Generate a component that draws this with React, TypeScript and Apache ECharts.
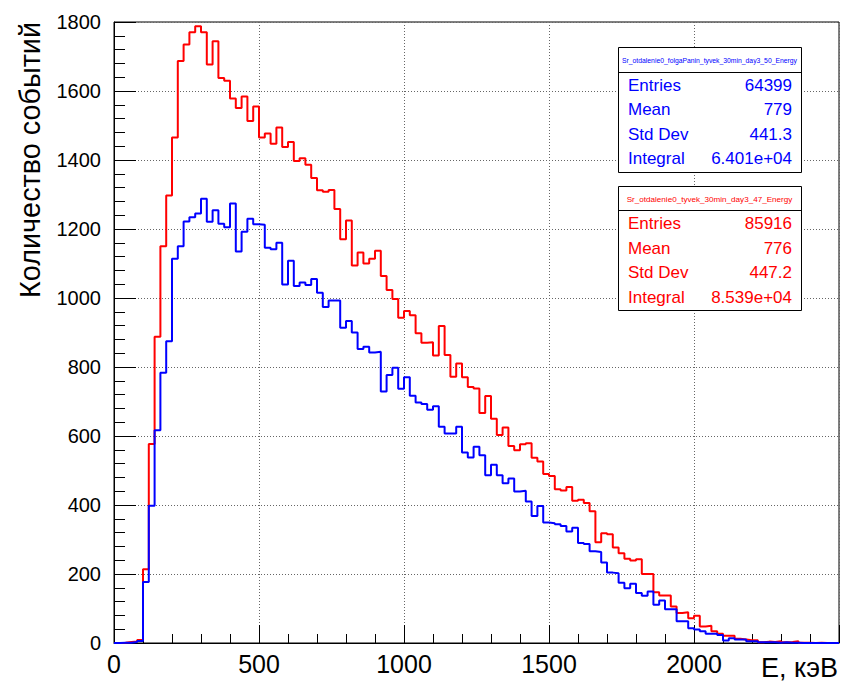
import React, { useEffect, useRef } from "react";
import * as echarts from "echarts";

const BIN_WIDTH = 20;
const X_MIN = 0;
const X_MAX = 2500;
const Y_MIN = 0;
const Y_MAX = 1800;

// counts per 20-unit bin, E from 0 to 2500
const redCounts = [
  0, 1, 3, 4, 9, 214, 577, 888, 1150, 1297,
  1465, 1687, 1735, 1770, 1788, 1770, 1677, 1744, 1638, 1630,
  1578, 1551, 1584, 1513, 1555, 1465, 1477, 1447, 1494, 1438,
  1452, 1397, 1405, 1386, 1348, 1312, 1308, 1313, 1258, 1170,
  1225, 1094, 1132, 1100, 1114, 1137, 1064, 1023, 997, 943,
  962, 950, 898, 870, 872, 833, 919, 835, 772, 810,
  770, 742, 738, 667, 716, 650, 603, 625, 571, 559,
  576, 579, 537, 526, 490, 484, 446, 442, 452, 412,
  415, 406, 382, 292, 318, 315, 277, 260, 244, 239,
  243, 200, 200, 147, 138, 138, 106, 87, 89, 72,
  79, 48, 50, 34, 27, 21, 21, 12, 10, 8,
  8, 2, 4, 3, 5, 2, 3, 5, 1, 1,
  0, 1, 0, 0, 0,
];

const blueCounts = [
  0, 1, 1, 3, 6, 177, 398, 617, 783, 875,
  1114, 1150, 1222, 1234, 1245, 1288, 1221, 1254, 1215, 1205,
  1274, 1135, 1192, 1230, 1214, 1212, 1146, 1141, 1160, 1039,
  1108, 1035, 1045, 1038, 1055, 1015, 974, 993, 993, 914,
  933, 900, 852, 859, 842, 844, 729, 777, 798, 737,
  770, 717, 697, 693, 676, 686, 627, 607, 607, 627,
  552, 538, 569, 544, 486, 517, 486, 463, 477, 439,
  441, 410, 368, 397, 349, 347, 344, 339, 323, 334,
  290, 287, 266, 264, 233, 204, 202, 175, 159, 172,
  145, 137, 149, 111, 123, 98, 98, 63, 63, 43,
  39, 34, 27, 27, 23, 7, 14, 10, 10, 5,
  5, 2, 2, 2, 1, 2, 1, 1, 0, 0,
  0, 0, 0, 0, 0,
];

const X_TITLE = "E, кэВ";
const Y_TITLE = "Количество событий";
const STAT_LABELS = ["Entries", "Mean", "Std Dev", "Integral"];
const BLUE_NAME = "Sr_otdalenie0_folgaPanin_tyvek_30min_day3_50_Energy";
const BLUE_STATS = ["64399", "779", "441.3", "6.401e+04"];
const RED_NAME = "Sr_otdalenie0_tyvek_30min_day3_47_Energy";
const RED_STATS = ["85916", "776", "447.2", "8.539e+04"];

const FONT = "'Liberation Sans', Arial, Helvetica, sans-serif";
const BOX_Z = 100;

function toSteps(counts: number[]) {
  const pts: number[][] = counts.map((c, i) => [X_MIN + i * BIN_WIDTH, c]);
  pts.push([X_MIN + counts.length * BIN_WIDTH, counts[counts.length - 1]]);
  return pts;
}

function statsBox(
  x: number,
  y: number,
  w: number,
  h: number,
  headerH: number,
  titleSize: number,
  name: string,
  values: string[],
  color: string,
  rowYs: number[]
) {
  const els: any[] = [
    {
      type: "rect",
      z: BOX_Z,
      shape: { x: x + 0.5, y: y + 0.5, width: w, height: h },
      style: { fill: "#fff", stroke: "#000", lineWidth: 1 },
    },
    {
      type: "line",
      z: BOX_Z + 1,
      shape: { x1: x, y1: y + headerH + 0.5, x2: x + w, y2: y + headerH + 0.5 },
      style: { stroke: "#000", lineWidth: 1 },
    },
    {
      type: "text",
      z: BOX_Z + 1,
      x: x + w / 2,
      y: y + headerH / 2 + 1,
      style: {
        text: name,
        fill: color,
        fontSize: titleSize,
        fontFamily: FONT,
        align: "center",
        verticalAlign: "middle",
      },
    },
  ];
  STAT_LABELS.forEach((lab, i) => {
    els.push({
      type: "text",
      z: BOX_Z + 1,
      x: x + 10,
      y: rowYs[i],
      style: {
        text: lab,
        fill: color,
        fontSize: 17,
        fontFamily: FONT,
        align: "left",
        verticalAlign: "middle",
      },
    });
    els.push({
      type: "text",
      z: BOX_Z + 1,
      x: x + w - 9,
      y: rowYs[i],
      style: {
        text: values[i],
        fill: color,
        fontSize: 17,
        fontFamily: FONT,
        align: "right",
        verticalAlign: "middle",
      },
    });
  });
  return els;
}

export default function App() {
  const ref = useRef<HTMLDivElement>(null);

  useEffect(() => {
    document.body.style.margin = "0";
    const chart = echarts.init(ref.current as HTMLDivElement, undefined, {
      renderer: "svg",
    });
    const gridLine = { type: [1, 2] as any, color: "#666", width: 1 };
    chart.setOption({
      animation: false,
      backgroundColor: "#fff",
      textStyle: { fontFamily: FONT },
      grid: {
        left: 114,
        right: 1,
        top: 22,
        bottom: 41,
        show: true,
        borderColor: "#000",
        borderWidth: 1,
        backgroundColor: "transparent",
      },
      xAxis: {
        type: "value",
        min: X_MIN,
        max: X_MAX,
        interval: 500,
        axisLine: { show: true, onZero: false, lineStyle: { color: "#000", width: 1 } },
        axisTick: { show: true, inside: true, length: 18, lineStyle: { color: "#000" } },
        minorTick: { show: true, splitNumber: 5, length: 9, lineStyle: { color: "#000" } },
        axisLabel: {
          fontSize: 25,
          color: "#000",
          fontFamily: FONT,
          margin: 8,
          formatter: (v: number) => (v === X_MAX ? "" : String(v)),
        },
        splitLine: { show: true, lineStyle: gridLine },
      },
      yAxis: {
        type: "value",
        min: Y_MIN,
        max: Y_MAX,
        interval: 200,
        axisLine: { show: true, onZero: false, lineStyle: { color: "#000", width: 1 } },
        axisTick: { show: true, inside: true, length: 22, lineStyle: { color: "#000" } },
        minorTick: { show: true, splitNumber: 5, length: 11, lineStyle: { color: "#000" } },
        axisLabel: {
          fontSize: 20,
          color: "#000",
          fontFamily: FONT,
          margin: 13,
          formatter: (v: number) => String(v),
        },
        splitLine: { show: true, lineStyle: gridLine },
      },
      series: [
        {
          name: RED_NAME,
          type: "line",
          step: "end",
          symbol: "none",
          data: toSteps(redCounts),
          lineStyle: { color: "#ff0000", width: 2 },
          itemStyle: { color: "#ff0000" },
          z: 3,
        },
        {
          name: BLUE_NAME,
          type: "line",
          step: "end",
          symbol: "none",
          data: toSteps(blueCounts),
          lineStyle: { color: "#0000ff", width: 2 },
          itemStyle: { color: "#0000ff" },
          z: 4,
        },
      ],
      graphic: [
        {
          type: "text",
          x: 838,
          y: 668,
          style: {
            text: X_TITLE,
            fill: "#000",
            fontSize: 27,
            fontFamily: FONT,
            align: "right",
            verticalAlign: "middle",
          },
        },
        {
          type: "text",
          x: 30,
          y: 22,
          rotation: Math.PI / 2,
          style: {
            text: Y_TITLE,
            fill: "#000",
            fontSize: 28.8,
            fontFamily: FONT,
            align: "right",
            verticalAlign: "middle",
          },
        },
        ...statsBox(618, 47, 183, 125, 25, 6.8, BLUE_NAME, BLUE_STATS, "#0000ff", [85, 109.5, 134, 158.5]),
        ...statsBox(618, 186, 183, 124, 24, 8.1, RED_NAME, RED_STATS, "#ff0000", [223.5, 248, 272.5, 297]),
      ],
    });
    return () => chart.dispose();
  }, []);

  return (
    <div
      ref={ref}
      style={{ position: "fixed", left: 0, top: 0, width: 842, height: 684 }}
    />
  );
}
